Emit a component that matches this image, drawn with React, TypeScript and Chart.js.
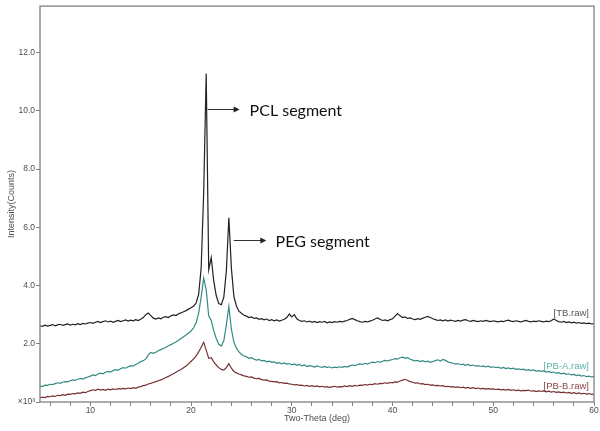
import React, { useEffect, useRef } from 'react';
import { Chart, registerables } from 'chart.js';

Chart.register(...registerables);

// 2-theta grid: 5° to 60° in 0.25° steps
const X_START = 5;
const X_STEP = 0.25;

// Intensity (x10^3 counts)
const tbValues = [
  2.62, 2.60, 2.64, 2.61, 2.63, 2.66, 2.62, 2.65, 2.67, 2.63, 2.66, 2.68, 2.64, 2.67, 2.65, 2.69, 2.66, 2.70, 2.68, 2.71,
  2.73, 2.70, 2.74, 2.77, 2.73, 2.76, 2.79, 2.75, 2.78, 2.74, 2.77, 2.80, 2.76, 2.79, 2.82, 2.78, 2.81, 2.79, 2.83, 2.80,
  2.84, 2.90, 3.00, 3.06, 2.97, 2.88, 2.85, 2.89, 2.86, 2.91, 2.93, 2.90, 2.96, 2.99, 2.97, 3.03, 3.06, 3.10, 3.14, 3.19,
  3.24, 3.30, 3.40, 3.70, 4.60, 7.20, 11.28, 4.55, 4.96, 4.15, 3.65, 3.38, 3.34, 3.60, 4.50, 6.33, 4.60, 3.62, 3.30, 3.12,
  3.05, 2.98, 2.95, 2.90, 2.92, 2.87, 2.89, 2.84, 2.86, 2.82, 2.85, 2.80, 2.83, 2.79, 2.82, 2.78, 2.81, 2.84, 2.90, 3.02,
  2.92, 3.00, 2.86, 2.80, 2.77, 2.79, 2.75, 2.78, 2.74, 2.77, 2.73, 2.76, 2.74, 2.77, 2.72, 2.75, 2.73, 2.76, 2.74, 2.77,
  2.75, 2.78, 2.80, 2.84, 2.87, 2.83, 2.79, 2.76, 2.74, 2.77, 2.75, 2.78, 2.81, 2.85, 2.89, 2.84, 2.80, 2.82, 2.79, 2.83,
  2.86, 2.95, 3.04, 2.96, 2.90, 2.92, 2.87, 2.89, 2.85, 2.83, 2.86, 2.84, 2.88, 2.91, 2.94, 2.90, 2.86, 2.83, 2.80, 2.82,
  2.79, 2.82, 2.78, 2.81, 2.79, 2.77, 2.80, 2.78, 2.81, 2.83, 2.79, 2.77, 2.80, 2.78, 2.76, 2.79, 2.77, 2.80, 2.78, 2.76,
  2.79, 2.77, 2.75, 2.78, 2.76, 2.79, 2.81, 2.78, 2.76, 2.79, 2.77, 2.75, 2.78, 2.80, 2.77, 2.75, 2.78, 2.76, 2.79, 2.77,
  2.75, 2.78, 2.76, 2.79, 2.85, 2.80, 2.76, 2.74, 2.77, 2.73, 2.75, 2.72, 2.74, 2.71, 2.73, 2.70, 2.72, 2.69, 2.71, 2.68,
  2.69,
];

const pbaValues = [
  0.55, 0.53, 0.58, 0.57, 0.61, 0.60, 0.63, 0.66, 0.64, 0.68, 0.70, 0.69, 0.73, 0.76, 0.74, 0.78, 0.81, 0.79, 0.83, 0.86,
  0.89, 0.93, 0.91, 0.96, 0.99, 0.97, 1.02, 1.05, 1.03, 1.08, 1.11, 1.09, 1.14, 1.18, 1.16, 1.21, 1.25, 1.23, 1.29, 1.33,
  1.38, 1.42, 1.48, 1.62, 1.70, 1.67, 1.71, 1.76, 1.80, 1.84, 1.88, 1.93, 1.97, 2.02, 2.06, 2.12, 2.18, 2.24, 2.30, 2.37,
  2.44, 2.55, 2.72, 3.05, 3.60, 4.26, 3.85, 2.95, 2.80, 2.45, 2.18, 1.98, 1.92, 2.10, 2.65, 3.28, 2.50, 2.05, 1.85, 1.72,
  1.64, 1.58, 1.55, 1.50, 1.52, 1.47, 1.44, 1.46, 1.41, 1.43, 1.38, 1.40, 1.36, 1.38, 1.33, 1.35, 1.31, 1.34, 1.30, 1.32,
  1.28, 1.31, 1.26, 1.29, 1.24, 1.27, 1.22, 1.25, 1.23, 1.20, 1.24, 1.21, 1.19, 1.22, 1.18, 1.21, 1.17, 1.20, 1.18, 1.21,
  1.19, 1.22, 1.20, 1.24, 1.27, 1.25, 1.28, 1.31, 1.29, 1.33, 1.30, 1.34, 1.37, 1.35, 1.39, 1.36, 1.40, 1.43, 1.41, 1.44,
  1.46, 1.49, 1.47, 1.52, 1.54, 1.50, 1.52, 1.47, 1.44, 1.41, 1.43, 1.39, 1.42, 1.38, 1.40, 1.36, 1.39, 1.42, 1.45, 1.41,
  1.46, 1.43, 1.38, 1.35, 1.33, 1.30, 1.32, 1.28, 1.30, 1.26, 1.29, 1.25, 1.27, 1.23, 1.25, 1.22, 1.24, 1.21, 1.23, 1.19,
  1.21, 1.18, 1.20, 1.16, 1.19, 1.15, 1.17, 1.14, 1.16, 1.12, 1.14, 1.11, 1.13, 1.09, 1.11, 1.08, 1.10, 1.06, 1.08, 1.05,
  1.07, 1.03, 1.05, 1.01, 1.03, 0.99, 1.01, 0.97, 0.99, 0.95, 0.97, 0.93, 0.95, 0.91, 0.93, 0.89, 0.91, 0.87, 0.89, 0.86,
  0.87,
];

const pbbValues = [
  0.14, 0.17, 0.15, 0.19, 0.18, 0.21, 0.19, 0.23, 0.22, 0.25, 0.23, 0.27, 0.26, 0.29, 0.28, 0.31, 0.30, 0.34, 0.32, 0.36,
  0.39, 0.42, 0.40, 0.44, 0.41, 0.43, 0.40, 0.44, 0.42, 0.45, 0.43, 0.46, 0.44, 0.47, 0.45, 0.48, 0.46, 0.49, 0.47, 0.51,
  0.53, 0.56, 0.58, 0.62, 0.64, 0.67, 0.70, 0.73, 0.76, 0.80, 0.84, 0.88, 0.93, 0.97, 1.02, 1.07, 1.12, 1.18, 1.24, 1.31,
  1.40, 1.48, 1.58, 1.72, 1.88, 2.05, 1.78, 1.50, 1.52, 1.38, 1.27, 1.18, 1.12, 1.10, 1.18, 1.32, 1.16, 1.05, 1.00, 0.96,
  0.93, 0.90, 0.88, 0.85, 0.86, 0.82, 0.80, 0.81, 0.77, 0.75, 0.76, 0.72, 0.71, 0.69, 0.70, 0.66, 0.67, 0.64, 0.65, 0.62,
  0.61, 0.59, 0.60, 0.57, 0.58, 0.55, 0.57, 0.54, 0.56, 0.53, 0.55, 0.52, 0.54, 0.51, 0.53, 0.50, 0.52, 0.54, 0.51, 0.53,
  0.52, 0.55, 0.53, 0.56, 0.54, 0.57, 0.55, 0.58, 0.57, 0.60, 0.58, 0.61, 0.60, 0.63, 0.61, 0.64, 0.63, 0.66, 0.64, 0.67,
  0.66, 0.69, 0.68, 0.72, 0.75, 0.78, 0.74, 0.70, 0.68, 0.65, 0.66, 0.62, 0.63, 0.60, 0.61, 0.58, 0.59, 0.56, 0.57, 0.55,
  0.56, 0.53, 0.54, 0.52, 0.53, 0.50, 0.52, 0.49, 0.51, 0.48, 0.50, 0.47, 0.49, 0.46, 0.48, 0.45, 0.47, 0.44, 0.46, 0.44,
  0.45, 0.43, 0.44, 0.42, 0.43, 0.41, 0.43, 0.40, 0.42, 0.39, 0.41, 0.38, 0.40, 0.39, 0.41, 0.37, 0.39, 0.36, 0.38, 0.37,
  0.38, 0.35, 0.37, 0.34, 0.36, 0.33, 0.35, 0.32, 0.34, 0.31, 0.33, 0.30, 0.32, 0.29, 0.31, 0.28, 0.30, 0.27, 0.29, 0.26,
  0.27,
];

const twoTheta = tbValues.map((_, i) => X_START + i * X_STEP);

const seriesNames = ['[TB.raw]', '[PB-A.raw]', '[PB-B.raw]'];
const seriesValues = [tbValues, pbaValues, pbbValues];
const seriesColors = ['#222222', '#348a82', '#763030'];
const seriesLabelColors = ['#555555', '#5fb0a6', '#8a4545'];
const seriesLabelY = [3.05, 1.23, 0.52];

const xTickValues = [6, 8, 10, 12, 14, 16, 18, 20, 22, 24, 26, 28, 30, 32, 34, 36, 38, 40, 42, 44, 46, 48, 50, 52, 54, 56, 58, 60];
const yTickValues = [0, 2, 4, 6, 8, 10, 12];

const annotationTexts = ['PCL segment', 'PEG segment'];
const annotationY = [10.08, 5.55];
const annotationArrowFrom = [21.65, 24.23];
const annotationArrowTo = [24.82, 27.47];
const annotationTextX = [25.81, 28.39];

const AXIS_COLOR = '#808080';
const TEXT_COLOR = '#4d4d4d';

const overlayPlugin = {
  id: 'overlay',
  afterDraw(chart: any) {
    const { ctx, chartArea, scales } = chart;
    const xs = scales.x;
    const ys = scales.y;
    ctx.save();
    // frame
    ctx.strokeStyle = AXIS_COLOR;
    ctx.lineWidth = 1.3;
    ctx.strokeRect(chartArea.left, chartArea.top, chartArea.right - chartArea.left, chartArea.bottom - chartArea.top);

    // series labels
    ctx.font = '9.5px "Liberation Sans", Arial, sans-serif';
    ctx.textAlign = 'right';
    ctx.textBaseline = 'middle';
    seriesNames.forEach((name, i) => {
      ctx.fillStyle = seriesLabelColors[i];
      ctx.fillText(name, xs.getPixelForValue(59.5), ys.getPixelForValue(seriesLabelY[i]));
    });

    // annotations
    annotationTexts.forEach((t, i) => {
      const py = Math.round(ys.getPixelForValue(annotationY[i])) + 0.5;
      const x0 = xs.getPixelForValue(annotationArrowFrom[i]);
      const x1 = xs.getPixelForValue(annotationArrowTo[i]);
      ctx.strokeStyle = '#333333';
      ctx.fillStyle = '#222222';
      ctx.lineWidth = 1;
      ctx.beginPath();
      ctx.moveTo(x0, py);
      ctx.lineTo(x1 - 5, py);
      ctx.stroke();
      ctx.beginPath();
      ctx.moveTo(x1, py);
      ctx.lineTo(x1 - 6, py - 3);
      ctx.lineTo(x1 - 6, py + 3);
      ctx.closePath();
      ctx.fill();
      ctx.font = '16px Lato, "Open Sans", sans-serif';
      ctx.textAlign = 'left';
      ctx.textBaseline = 'alphabetic';
      ctx.fillStyle = '#111111';
      ctx.fillText(t, xs.getPixelForValue(annotationTextX[i]), py + 6);
    });

    // axis titles
    ctx.fillStyle = TEXT_COLOR;
    ctx.font = '9px "Liberation Sans", Arial, sans-serif';
    ctx.textAlign = 'center';
    ctx.textBaseline = 'middle';
    ctx.fillText('Two-Theta (deg)', (chartArea.left + chartArea.right) / 2, 419);
    ctx.translate(12, (chartArea.top + chartArea.bottom) / 2);
    ctx.rotate(-Math.PI / 2);
    ctx.fillText('Intensity(Counts)', 0, 0);
    ctx.restore();
  },
};

export default function App() {
  const canvasRef = useRef<HTMLCanvasElement | null>(null);

  useEffect(() => {
    if (!canvasRef.current) return;
    const chart = new Chart(canvasRef.current, {
      type: 'line',
      data: {
        datasets: seriesNames.map((name, i) => ({
          label: name,
          data: seriesValues[i].map((v, j) => ({ x: twoTheta[j], y: v })),
          borderColor: seriesColors[i],
          borderWidth: 1.2,
          pointRadius: 0,
          tension: 0,
          fill: false,
        })),
      },
      options: {
        animation: false,
        responsive: false,
        layout: { padding: { left: 0, right: 6, top: 6, bottom: 0 } },
        plugins: { legend: { display: false }, tooltip: { enabled: false } },
        scales: {
          x: {
            type: 'linear',
            min: 5,
            max: 60,
            afterBuildTicks: (s: any) => {
              s.ticks = xTickValues.map((v) => ({ value: v }));
            },
            afterFit: (s: any) => {
              s.height = 29;
            },
            border: { display: false },
            grid: { drawOnChartArea: false, drawTicks: true, tickLength: 4, color: AXIS_COLOR, lineWidth: 1 },
            ticks: {
              autoSkip: false,
              maxRotation: 0,
              padding: 0,
              color: TEXT_COLOR,
              font: { family: '"Liberation Sans", Arial, sans-serif', size: 8.5 },
              callback: (v: any) => (Number(v) % 10 === 0 ? String(v) : ''),
            },
          },
          y: {
            type: 'linear',
            min: 0,
            max: 13.6,
            afterBuildTicks: (s: any) => {
              s.ticks = yTickValues.map((v) => ({ value: v }));
            },
            afterFit: (s: any) => {
              s.width = 40;
            },
            border: { display: false },
            grid: { drawOnChartArea: false, drawTicks: true, tickLength: 4, color: AXIS_COLOR, lineWidth: 1 },
            ticks: {
              padding: 1,
              color: TEXT_COLOR,
              font: { family: '"Liberation Sans", Arial, sans-serif', size: 8.5 },
              callback: (v: any) => (Number(v) === 0 ? '×10³' : Number(v).toFixed(1)),
            },
          },
        },
      },
      plugins: [overlayPlugin],
    });
    return () => chart.destroy();
  }, []);

  return (
    <div style={{ position: 'absolute', left: 0, top: 0, width: 600, height: 431, background: '#ffffff' }}>
      <canvas ref={canvasRef} width={600} height={431} />
    </div>
  );
}
